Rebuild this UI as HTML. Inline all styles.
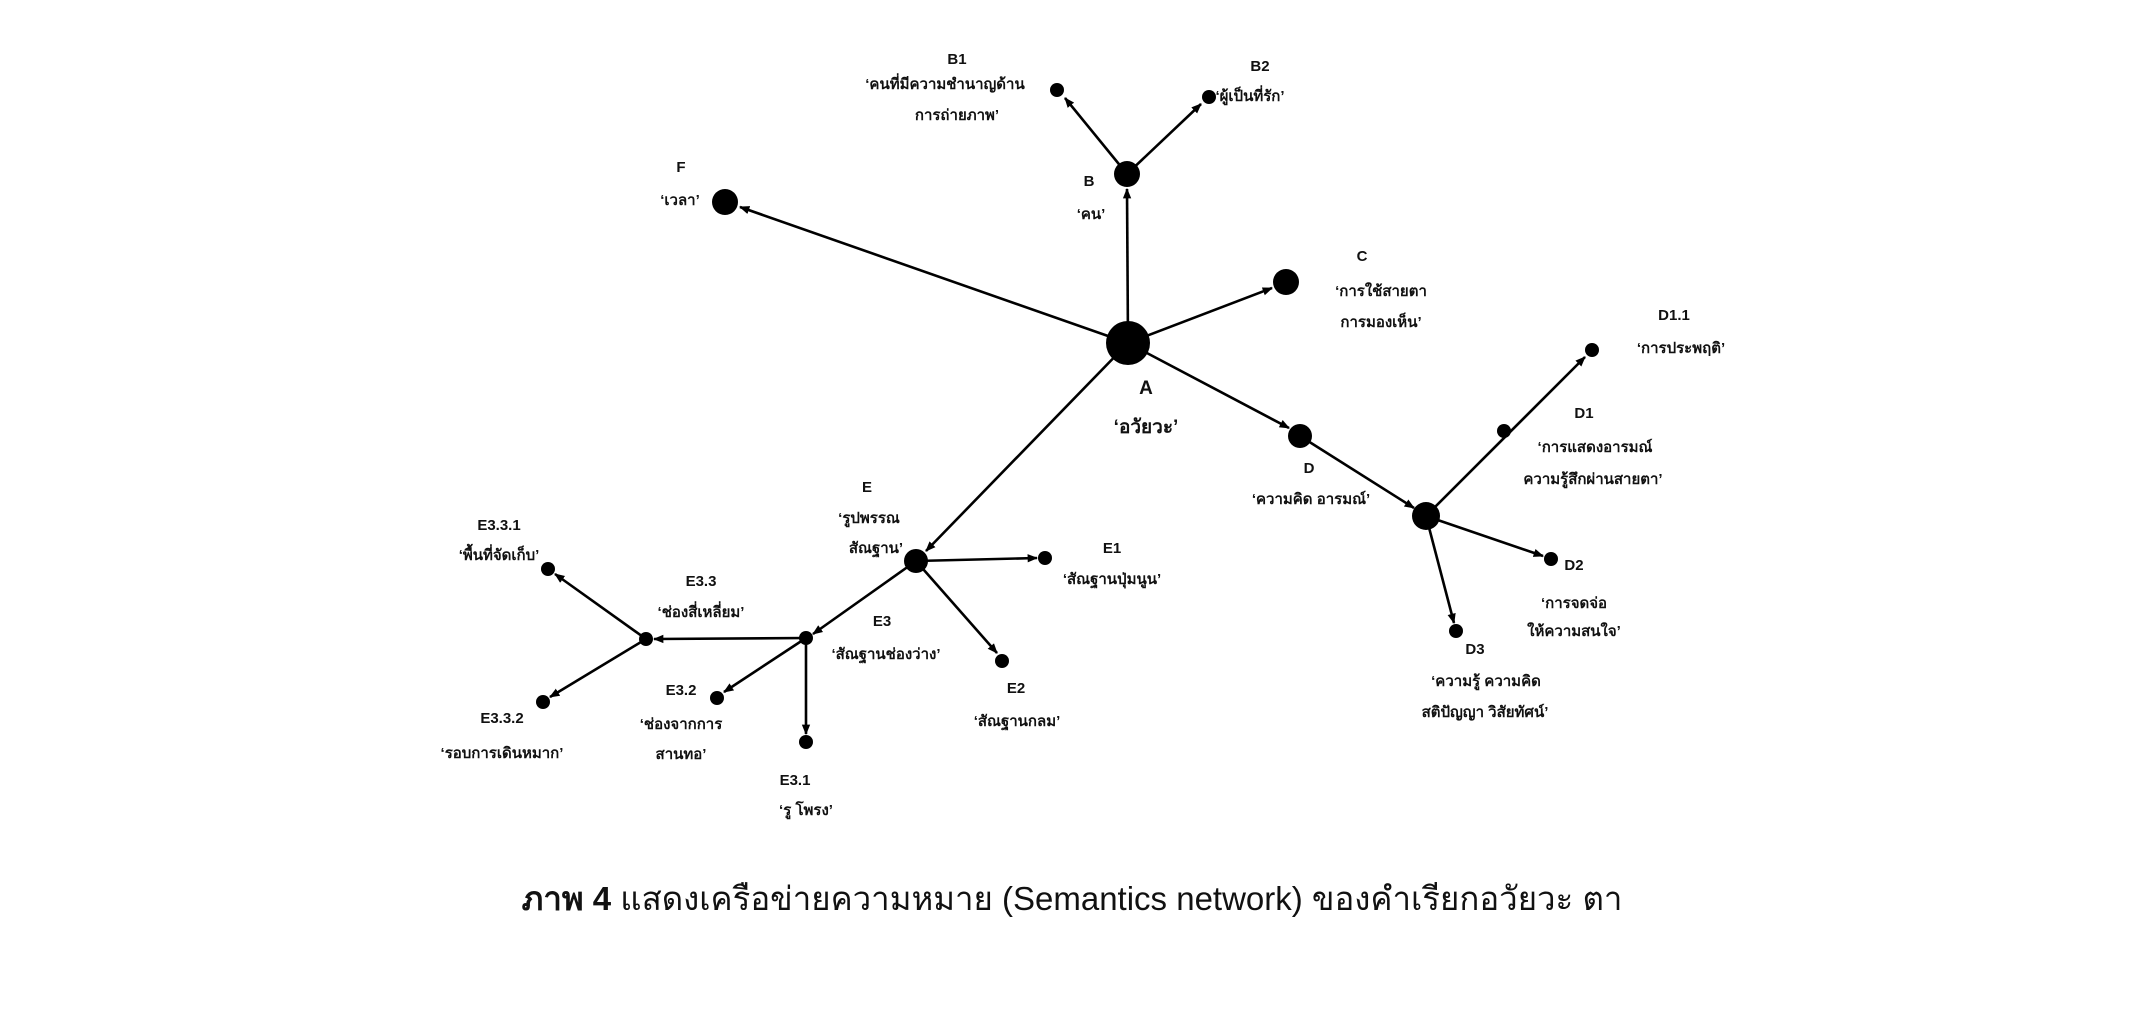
<!DOCTYPE html>
<html><head><meta charset="utf-8"><style>
html,body{margin:0;padding:0;background:#fff;}
svg{display:block;}
text{font-family:"Liberation Sans","DejaVu Sans",sans-serif;font-weight:bold;font-size:15px;fill:#111;text-anchor:middle;}
</style></head><body>
<svg width="2150" height="1009" viewBox="0 0 2150 1009">
<defs>
<marker id="ar" viewBox="0 0 10 10" refX="9" refY="5" markerWidth="4" markerHeight="4" orient="auto" markerUnits="strokeWidth">
<path d="M0,1 L10,5 L0,9 z" fill="#000"/></marker>
</defs>
<g stroke="#000" stroke-width="2.6" marker-end="url(#ar)" fill="none">
<line x1="1128" y1="343" x2="740" y2="207"/>
<line x1="1128" y1="343" x2="1127" y2="189"/>
<line x1="1128" y1="343" x2="1272" y2="288"/>
<line x1="1128" y1="343" x2="1289" y2="428"/>
<line x1="1128" y1="343" x2="926" y2="551"/>
<line x1="1127" y1="174" x2="1065" y2="98"/>
<line x1="1127" y1="174" x2="1201" y2="104"/>
<line x1="1300" y1="436" x2="1414" y2="508"/>
<line x1="1426" y1="516" x2="1585" y2="357"/>
<line x1="1426" y1="516" x2="1543" y2="556"/>
<line x1="1426" y1="516" x2="1454" y2="623"/>
<line x1="916" y1="561" x2="1037" y2="558"/>
<line x1="916" y1="561" x2="997" y2="653"/>
<line x1="916" y1="561" x2="813" y2="634"/>
<line x1="806" y1="638" x2="806" y2="734"/>
<line x1="806" y1="638" x2="724" y2="692"/>
<line x1="806" y1="638" x2="654" y2="639"/>
<line x1="646" y1="639" x2="555" y2="574"/>
<line x1="646" y1="639" x2="550" y2="697"/>
</g>
<g fill="#000">
<circle cx="1128" cy="343" r="22"/>
<circle cx="1127" cy="174" r="13"/>
<circle cx="1057" cy="90" r="7"/>
<circle cx="1209" cy="97" r="7"/>
<circle cx="725" cy="202" r="13"/>
<circle cx="1286" cy="282" r="13"/>
<circle cx="1300" cy="436" r="12"/>
<circle cx="1426" cy="516" r="14"/>
<circle cx="1504" cy="431" r="7"/>
<circle cx="1592" cy="350" r="7"/>
<circle cx="1551" cy="559" r="7"/>
<circle cx="1456" cy="631" r="7"/>
<circle cx="916" cy="561" r="12"/>
<circle cx="1045" cy="558" r="7"/>
<circle cx="1002" cy="661" r="7"/>
<circle cx="806" cy="638" r="7"/>
<circle cx="806" cy="742" r="7"/>
<circle cx="717" cy="698" r="7"/>
<circle cx="646" cy="639" r="7"/>
<circle cx="548" cy="569" r="7"/>
<circle cx="543" cy="702" r="7"/>
</g>
<text x="957" y="64">B1</text>
<text x="945" y="89">‘คนที่มีความชำนาญด้าน</text>
<text x="957" y="120">การถ่ายภาพ’</text>
<text x="1260" y="71">B2</text>
<text x="1250" y="101">‘ผู้เป็นที่รัก’</text>
<text x="681" y="172">F</text>
<text x="680" y="205">‘เวลา’</text>
<text x="1089" y="186">B</text>
<text x="1091" y="219">‘คน’</text>
<text x="1362" y="261">C</text>
<text x="1381" y="296">‘การใช้สายตา</text>
<text x="1381" y="327">การมองเห็น’</text>
<text x="1146" y="394" style="font-size:19px">A</text>
<text x="1146" y="433" style="font-size:19px">‘อวัยวะ’</text>
<text x="1674" y="320">D1.1</text>
<text x="1681" y="353">‘การประพฤติ’</text>
<text x="1584" y="418">D1</text>
<text x="1595" y="452">‘การแสดงอารมณ์</text>
<text x="1593" y="484">ความรู้สึกผ่านสายตา’</text>
<text x="1309" y="473">D</text>
<text x="1311" y="504">‘ความคิด อารมณ์’</text>
<text x="1574" y="570">D2</text>
<text x="1574" y="608">‘การจดจ่อ</text>
<text x="1574" y="636">ให้ความสนใจ’</text>
<text x="1475" y="654">D3</text>
<text x="1486" y="686">‘ความรู้ ความคิด</text>
<text x="1485" y="717">สติปัญญา วิสัยทัศน์’</text>
<text x="867" y="492">E</text>
<text x="869" y="523">‘รูปพรรณ</text>
<text x="876" y="553">สัณฐาน’</text>
<text x="1112" y="553">E1</text>
<text x="1112" y="584">‘สัณฐานปุ่มนูน’</text>
<text x="1016" y="693">E2</text>
<text x="1017" y="726">‘สัณฐานกลม’</text>
<text x="882" y="626">E3</text>
<text x="886" y="659">‘สัณฐานช่องว่าง’</text>
<text x="795" y="785">E3.1</text>
<text x="806" y="815">‘รู โพรง’</text>
<text x="681" y="695">E3.2</text>
<text x="681" y="729">‘ช่องจากการ</text>
<text x="681" y="759">สานทอ’</text>
<text x="701" y="586">E3.3</text>
<text x="701" y="617">‘ช่องสี่เหลี่ยม’</text>
<text x="499" y="530">E3.3.1</text>
<text x="499" y="560">‘พื้นที่จัดเก็บ’</text>
<text x="502" y="723">E3.3.2</text>
<text x="502" y="758">‘รอบการเดินหมาก’</text>
<text x="1072" y="910" style="font-size:33px;font-weight:normal"><tspan style="font-weight:bold">ภาพ 4</tspan> แสดงเครือข่ายความหมาย (Semantics network) ของคำเรียกอวัยวะ ตา</text>
</svg>
</body></html>
